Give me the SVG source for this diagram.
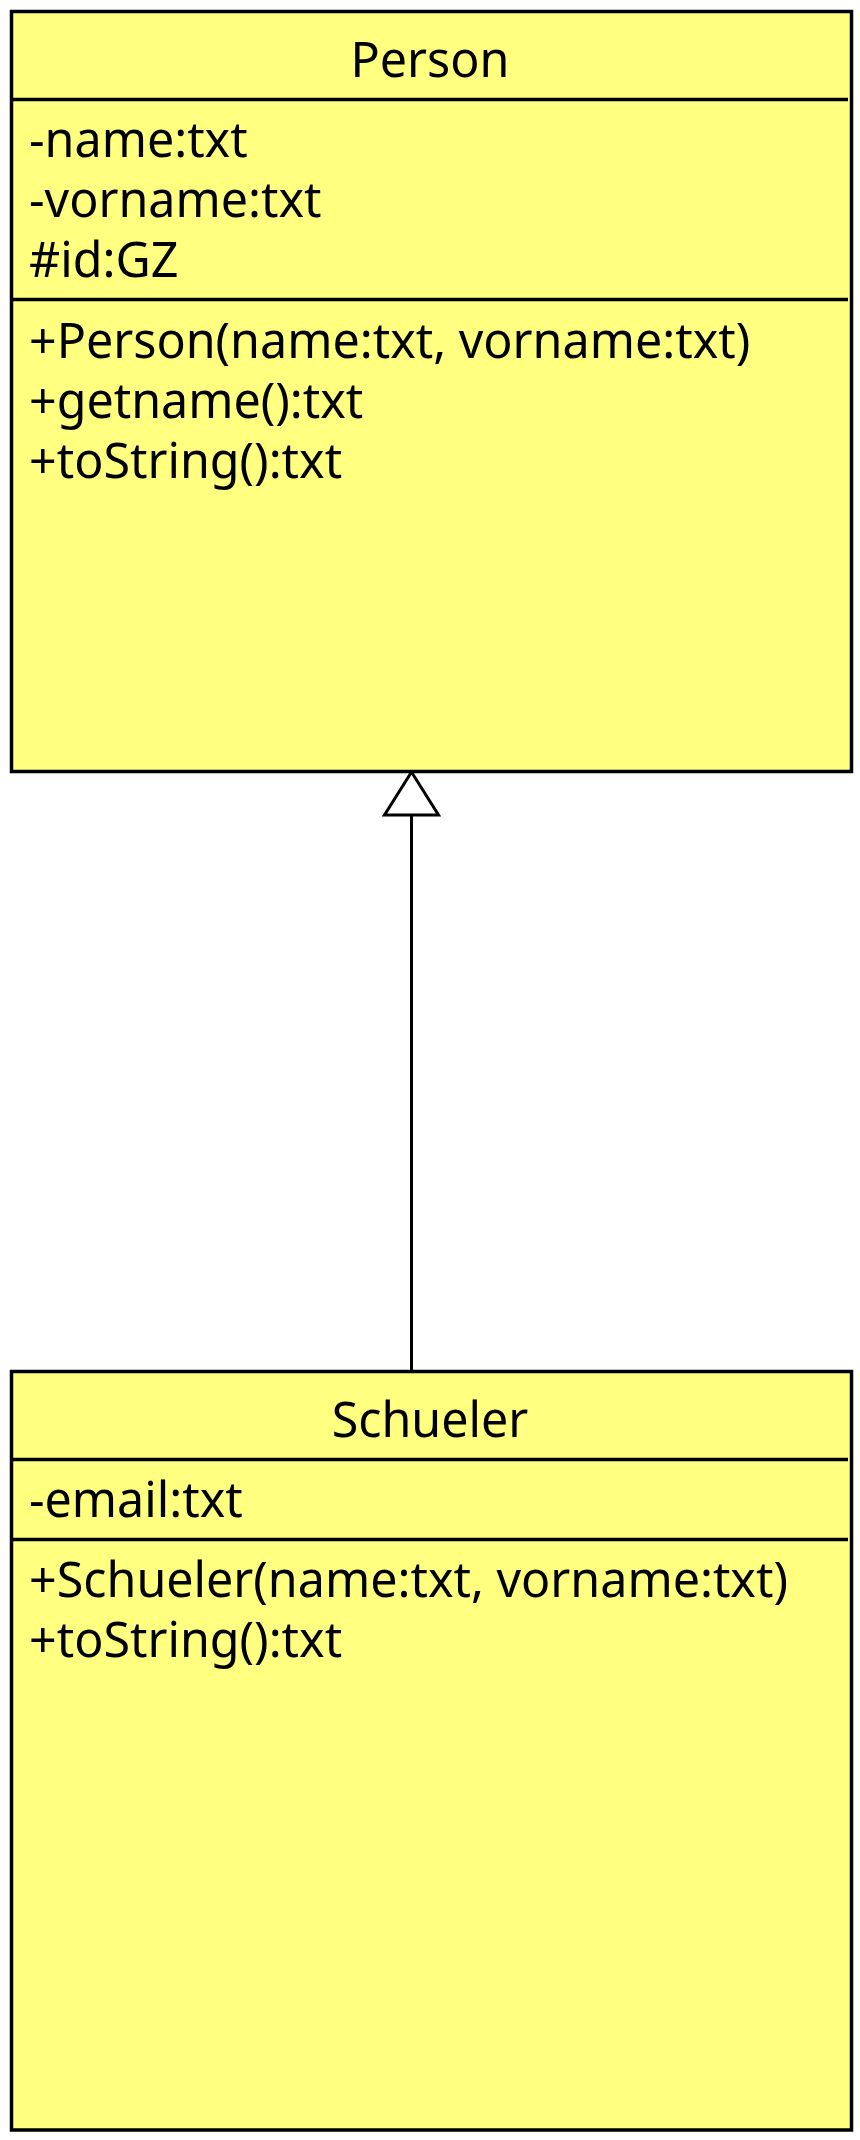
<svg xmlns="http://www.w3.org/2000/svg" width="860" height="2140" viewBox="0 0 860 2140">
<style>
.box{fill:#ffff80;stroke:#000;stroke-width:3.5}
.sep{stroke:#000;stroke-width:3.5}
.t{font-family:"Noto Sans","Open Sans",sans-serif;font-size:48.4px;fill:#000}
.title{text-anchor:middle}
.edge{stroke:#000;stroke-width:3;fill:none}
.head{fill:#fff;stroke:#000;stroke-width:3}
</style>
<rect width="860" height="2140" fill="#fff"/>
<g id="edges">
<line class="edge" x1="411.5" y1="1371.5" x2="411.5" y2="815"/>
<polygon class="head" points="411.5,772 384.5,815 438.5,815"/>
</g>
<g id="Person">
<rect class="box" x="11.5" y="11.5" width="840" height="760"/>
<line class="sep" x1="11.5" y1="99.5" x2="848" y2="99.5"/>
<line class="sep" x1="11.5" y1="299.5" x2="848" y2="299.5"/>
<text class="t title" x="430" y="77">Person</text>
<text class="t" x="29" y="157">-name:txt</text>
<text class="t" x="29" y="217">-vorname:txt</text>
<text class="t" x="29" y="277">#id:GZ</text>
<text class="t" x="29" y="358">+Person(name:txt, vorname:txt)</text>
<text class="t" x="29" y="418">+getname():txt</text>
<text class="t" x="29" y="478">+toString():txt</text>
</g>
<g id="Schueler">
<rect class="box" x="11.5" y="1371.5" width="840" height="758.5"/>
<line class="sep" x1="11.5" y1="1459.5" x2="848" y2="1459.5"/>
<line class="sep" x1="11.5" y1="1539.5" x2="848" y2="1539.5"/>
<text class="t title" x="430" y="1437">Schueler</text>
<text class="t" x="29" y="1517">-email:txt</text>
<text class="t" x="29" y="1597">+Schueler(name:txt, vorname:txt)</text>
<text class="t" x="29" y="1657">+toString():txt</text>
</g>
</svg>
